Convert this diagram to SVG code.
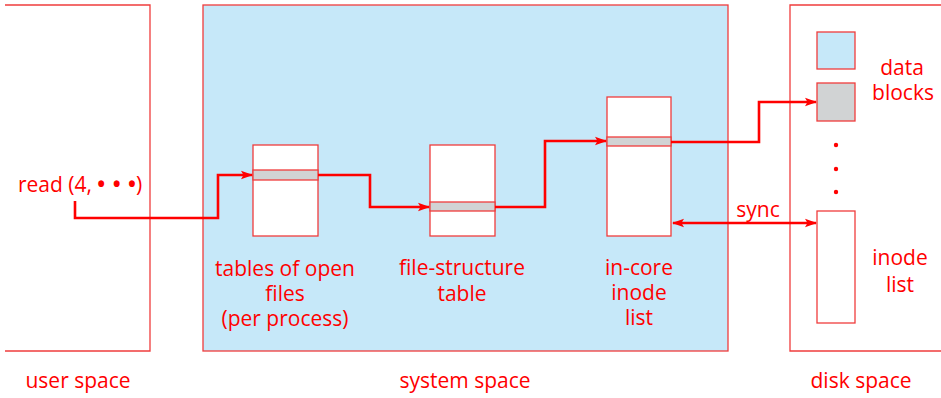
<svg xmlns="http://www.w3.org/2000/svg" width="941" height="398" viewBox="0 0 941 398">
<defs>
<style>
.region{fill:none;stroke:#f03c3c;stroke-width:1.3}
.tbl{fill:#ffffff;stroke:#f03c3c;stroke-width:1.3}
.band{fill:#d1d3d4;stroke:#f03c3c;stroke-width:1.3}
.wire{fill:none;stroke:#ff0000;stroke-width:2.6;stroke-linejoin:miter}
text{font-family:"Open Sans","Liberation Sans",sans-serif;font-size:21px;fill:#ff0000;text-anchor:middle}
.dots{font-weight:bold;word-spacing:2px}
</style>
<marker id="ah" markerWidth="12" markerHeight="10" refX="11" refY="5" orient="auto" markerUnits="userSpaceOnUse">
<path d="M0,0.8 L12,5 L0,9.2 L2.5,5 Z" fill="#ff0000"/>
</marker>
<marker id="ahs" markerWidth="12" markerHeight="10" refX="1" refY="5" orient="auto" markerUnits="userSpaceOnUse">
<path d="M12,0.8 L0,5 L12,9.2 L9.5,5 Z" fill="#ff0000"/>
</marker>
</defs>

<g id="user-space">
<path class="region" d="M5,5 H150 V351 H5"/>
<text x="78" y="388">user space</text>
<text x="80" y="192">read (4, <tspan class="dots">• • •</tspan>)</text>
</g>

<g id="system-space">
<rect x="203" y="5" width="525" height="346" fill="#c6e8f9" stroke="#f03c3c" stroke-width="1.3"/>
<text x="465" y="388">system space</text>
</g>

<g id="disk-space">
<path class="region" d="M941,5 H790 V351 H941"/>
<text x="861" y="388">disk space</text>
</g>

<g id="open-files-table">
<rect class="tbl" x="253" y="145" width="65" height="91"/>
<rect class="band" x="253" y="170" width="65" height="10"/>
<text x="285" y="276">tables of open</text>
<text x="285" y="301">files</text>
<text x="285" y="326">(per process)</text>
</g>

<g id="file-structure-table">
<rect class="tbl" x="430" y="145" width="65" height="91"/>
<rect class="band" x="430" y="202" width="65" height="9"/>
<text x="462" y="275">file-structure</text>
<text x="462" y="301">table</text>
</g>

<g id="in-core-inode-list">
<rect class="tbl" x="607" y="97" width="64" height="139"/>
<rect class="band" x="607" y="137" width="64" height="9"/>
<text x="639" y="275">in-core</text>
<text x="639" y="300">inode</text>
<text x="639" y="325">list</text>
</g>

<g id="data-blocks">
<rect x="817" y="32" width="38" height="37" fill="#c6e8f9" stroke="#f03c3c" stroke-width="1.3"/>
<rect x="817" y="83" width="38" height="38" fill="#d1d3d4" stroke="#f03c3c" stroke-width="1.3"/>
<circle cx="836" cy="145" r="2.2" fill="#ff0000"/>
<circle cx="836" cy="169" r="2.2" fill="#ff0000"/>
<circle cx="836" cy="192" r="2.2" fill="#ff0000"/>
<text x="902" y="75">data</text>
<text x="903" y="100">blocks</text>
</g>

<g id="disk-inode-list">
<rect class="tbl" x="817" y="211" width="38" height="112"/>
<text x="900" y="265">inode</text>
<text x="900" y="292">list</text>
</g>

<g id="connectors">
<path class="wire" d="M75,201 V218 H218 V175 H252" marker-end="url(#ah)"/>
<path class="wire" d="M318,175 H370 V207 H429" marker-end="url(#ah)"/>
<path class="wire" d="M495,207 H545 V141 H606" marker-end="url(#ah)"/>
<path class="wire" d="M671,142 H759 V102 H816" marker-end="url(#ah)"/>
<path class="wire" d="M673,223 H816" marker-start="url(#ahs)" marker-end="url(#ah)" stroke-width="2.2"/>
<text x="758" y="217">sync</text>
</g>
</svg>
